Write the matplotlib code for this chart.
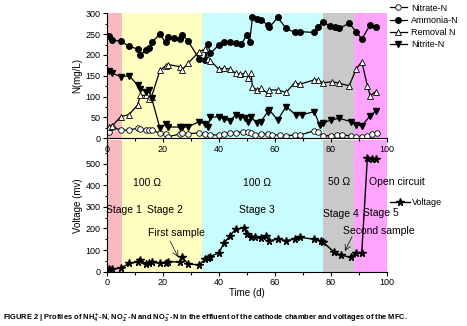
import matplotlib
matplotlib.use('Agg')
import matplotlib.pyplot as plt
from matplotlib.ticker import MultipleLocator

plt.rcParams['font.family'] = ['Liberation Sans', 'DejaVu Sans']
plt.rcParams['mathtext.fontset'] = 'custom'
plt.rcParams['mathtext.rm'] = 'Liberation Sans:bold'
plt.rcParams['mathtext.bf'] = 'Liberation Sans:bold'

# nitrogen profiles (mg/L)
nitrate_days = [0.7, 2, 5, 8, 11, 12, 14, 15, 16, 19, 21, 22, 26, 27, 29, 33, 35, 37, 40, 42,
                44, 46, 48.5, 50.5, 51.5, 53, 55, 57.5, 59, 62, 64, 67, 69, 74, 75.5, 77, 80, 82, 84, 87,
                89, 91, 93, 94.5, 96.5]
nitrate = [16, 28, 19, 20, 24, 22, 21, 21, 20, 12, 11, 4, 10, 12, 11, 13, 10, 8, 8, 11,
           13, 13, 16, 16, 13, 8, 11, 10, 8, 8, 6, 8, 8, 18, 15, 6, 6, 8, 8, 6,
           3, 3, 6, 11, 12]

ammonia_days = [0.7, 2, 5, 8, 11, 12, 14, 15, 16, 19, 21, 22, 24, 26, 27, 29, 33, 35, 36, 37,
                40, 42, 44, 46, 48, 50, 51, 52, 53.5, 55, 57.5, 58, 61, 64, 67, 69, 74, 75.5, 77, 79.5,
                81.5, 83, 86.5, 89, 91, 94, 96]
ammonia = [245, 236, 233, 221, 214, 200, 212, 216, 230, 250, 230, 242, 241, 239, 248, 234, 190, 188, 226, 204,
           224, 230, 230, 228, 226, 248, 232, 290, 286, 284, 272, 266, 290, 264, 254, 256, 254, 268, 280, 270,
           266, 264, 276, 256, 238, 272, 266]

removal_days = [0.7, 2, 5, 8, 11, 12, 14, 15, 16, 19, 21, 22, 26, 27, 29, 33, 35, 36, 37, 40,
                42, 44, 46, 47.5, 49.5, 50.5, 51.5, 52, 53.5, 55, 57.5, 58, 61, 64, 67, 69, 74, 75.5, 77, 80.5,
                83, 86.5, 89, 91, 93, 94, 96]
removal = [28, 30, 52, 57, 80, 103, 103, 95, 100, 163, 174, 177, 172, 165, 180, 208, 214, 190, 186, 166,
           168, 166, 156, 154, 156, 144, 156, 124, 116, 120, 108, 116, 116, 110, 133, 130, 140, 140, 133, 136,
           132, 126, 166, 184, 126, 102, 112]

nitrite_days = [0.7, 2, 5, 8, 11, 12, 14, 15, 16, 19, 21, 22, 26, 27, 29, 33, 35, 36, 37, 40,
                42, 44, 46, 47.5, 49.5, 50.5, 51.5, 53.5, 55, 57.5, 58, 61, 64, 67.5, 69.5, 74, 76, 77, 80, 83,
                87, 89, 91, 94, 96]
nitrite = [161, 156, 148, 150, 128, 118, 112, 116, 97, 24, 34, 27, 27, 27, 27, 40, 34, 26, 50, 52,
           46, 42, 56, 52, 48, 40, 52, 36, 40, 64, 68, 44, 76, 56, 56, 64, 32, 36, 44, 48,
           40, 32, 30, 54, 66]

# cell voltage (mv)
volt_days = [0.7, 2, 5, 8, 11, 12, 14, 15, 16, 19, 21, 22, 26, 27, 29, 33, 35, 36, 37, 40,
             42, 44, 46, 49, 50, 51.5, 53, 55, 57, 58, 61, 64, 67, 69, 74, 76.5, 77, 81, 83.5, 87,
             89, 91, 93, 94.5, 96]
voltage = [11, 13, 16, 39, 44, 56, 36, 42, 44, 39, 42, 47, 44, 67, 36, 31, 57, 62, 70, 88,
           135, 166, 197, 202, 174, 162, 162, 155, 166, 144, 150, 144, 150, 159, 150, 144, 139, 92, 77, 66,
           88, 88, 527, 523, 520]

# operating stages
stage_edges = [0, 5.3, 33.9, 77.2, 88.3, 100]
stage_colors = ['#F9B9C0', '#FFFFC2', '#C9FCFC', '#C9C9C9', '#FFA3FF']

fig = plt.figure(figsize=(4.67, 3.26), dpi=100)
ax2 = fig.add_axes([0.2285, 0.1666, 0.6002, 0.4045])
ax1 = fig.add_axes([0.2285, 0.5758, 0.6002, 0.3834])

for ax in (ax1, ax2):
    for i in range(len(stage_colors)):
        ax.axvspan(stage_edges[i], stage_edges[i + 1], color=stage_colors[i], lw=0, zorder=0)
    ax.spines['top'].set_visible(False)
    ax.spines['right'].set_visible(False)
    for s in ('left', 'bottom'):
        ax.spines[s].set_linewidth(0.8)
    ax.set_xlim(0, 100)
    ax.xaxis.set_major_locator(MultipleLocator(20))
    ax.xaxis.set_minor_locator(MultipleLocator(10))
    ax.tick_params(which='both', direction='out', labelsize=6.5, width=0.8, pad=1.5)
    ax.tick_params(which='major', length=3)
    ax.tick_params(which='minor', length=1.8)

ms = 4
ax1.plot(nitrate_days, nitrate, '-o', color='black', mfc='white', mec='black', ms=ms, lw=0.9, mew=0.6, label='Nitrate-N')
ax1.plot(ammonia_days, ammonia, '-o', color='black', ms=ms, lw=0.9, label='Ammonia-N')
ax1.plot(removal_days, removal, '-^', color='black', mfc='white', mec='black', ms=ms + 0.5, lw=0.9, mew=0.6, label='Removal N')
ax1.plot(nitrite_days, nitrite, '-v', color='black', ms=ms + 0.5, lw=0.9, label='Nitrite-N')
ax1.set_ylim(0, 300)
ax1.yaxis.set_major_locator(MultipleLocator(50))
ax1.yaxis.set_minor_locator(MultipleLocator(25))
ax1.set_ylabel('N(mg/L)', fontsize=7, labelpad=2)
ax1.legend(loc='upper left', bbox_to_anchor=(1.0, 1.1), frameon=False, fontsize=6.5,
           handlelength=1.9, handletextpad=0.5, labelspacing=0.35, borderpad=0, borderaxespad=0.3)

ax2.plot(volt_days, voltage, '-*', color='black', ms=5.5, lw=1.0, label='Voltage')
ax2.set_ylim(0, 610)
ax2.set_yticks([0, 100, 200, 300, 400, 500])
ax2.set_yticks([50, 150, 250, 350, 450, 550], minor=True)
ax2.set_ylabel('Voltage (mv)', fontsize=7, labelpad=2)
ax2.set_xlabel('Time (d)', fontsize=7, labelpad=1)
ax2.legend(loc='center left', bbox_to_anchor=(1.0, 0.525), frameon=False, fontsize=6.5,
           handlelength=2.3, handletextpad=0.2, borderpad=0, borderaxespad=0.3)

fs = 7.5
ax2.text(14.3, 412, '100 Ω', fontsize=fs, ha='center', va='center')
ax2.text(53.5, 412, '100 Ω', fontsize=fs, ha='center', va='center')
ax2.text(82.9, 417, '50 Ω', fontsize=fs, ha='center', va='center')
ax2.text(103.7, 414, 'Open circuit', fontsize=fs, ha='center', va='center')
ax2.text(6.3, 285, 'Stage 1', fontsize=fs, ha='center', va='center')
ax2.text(20.6, 285, 'Stage 2', fontsize=fs, ha='center', va='center')
ax2.text(53.6, 284, 'Stage 3', fontsize=fs, ha='center', va='center')
ax2.text(83.6, 268, 'Stage 4', fontsize=fs, ha='center', va='center')
ax2.text(97.7, 272, 'Stage 5', fontsize=fs, ha='center', va='center')
ax2.text(24.7, 178, 'First sample', fontsize=fs, ha='center', va='center')
ax2.text(97.2, 186, 'Second sample', fontsize=fs, ha='center', va='center')
ax2.annotate('', xy=(25.5, 67), xytext=(22.6, 142),
             arrowprops=dict(arrowstyle='->', lw=0.5, color='black', shrinkA=0, shrinkB=0))
ax2.annotate('', xy=(85, 95), xytext=(87.5, 162),
             arrowprops=dict(arrowstyle='->', lw=0.5, color='black', shrinkA=0, shrinkB=0))

fig.text(0.006, 0.0245,
         r'FIGURE 2 | Profiles of NH$_4^+$-N, NO$_2^-$-N and NO$_3^-$-N in the effluent of the cathode chamber and voltages of the MFC.',
         fontsize=5.4, fontweight='bold', va='center', ha='left')

plt.savefig('out.png', dpi=100)
